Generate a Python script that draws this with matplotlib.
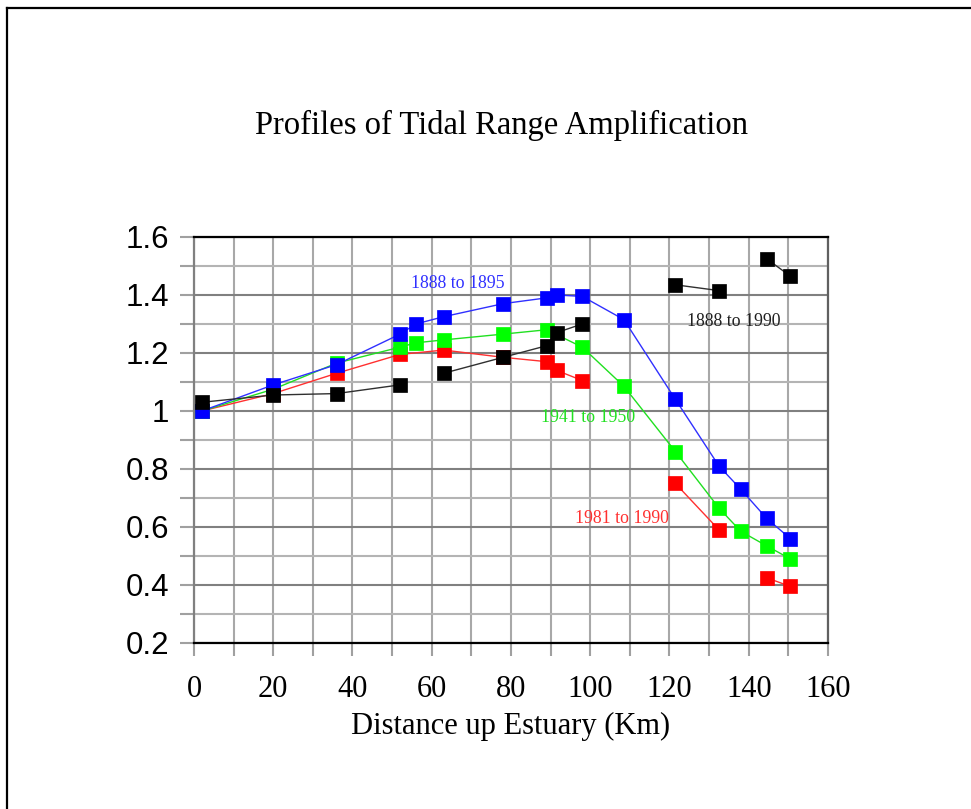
import numpy as np
import matplotlib
matplotlib.use('Agg')
import matplotlib.pyplot as plt
from matplotlib.lines import Line2D
from matplotlib.ticker import MultipleLocator

# distance up estuary (km) and amplification for each survey period
nan = np.nan

x_1888_1895 = [2, 20, 36, 52, 56, 63, 78, 89, 91.5, 98, 108.5, 121.5, 132.5, 138, 144.5, 150.5]
y_1888_1895 = [1.00, 1.09, 1.16, 1.265, 1.30, 1.325, 1.37, 1.39, 1.40, 1.395, 1.315, 1.04, 0.81, 0.73, 0.63, 0.56]

x_1941_1950 = [2, 20, 36, 52, 56, 63, 78, 89, 98, 108.5, 121.5, 132.5, 138, 144.5, 150.5]
y_1941_1950 = [1.00, 1.075, 1.165, 1.22, 1.235, 1.245, 1.265, 1.28, 1.22, 1.085, 0.86, 0.665, 0.585, 0.535, 0.49]

# gaps (nan) where the original line is broken
x_1981_1990 = [2, 20, 36, 52, 63, 78, 89, 91.5, 98, nan, 121.5, 132.5, nan, 144.5, 150.5]
y_1981_1990 = [1.00, 1.06, 1.13, 1.195, 1.21, 1.185, 1.17, 1.14, 1.105, nan, 0.75, 0.59, nan, 0.425, 0.395]

x_1888_1990 = [2, 20, 36, 52, nan, 63, 78, 89, 91.5, 98, nan, 121.5, 132.5, nan, 144.5, 150.5]
y_1888_1990 = [1.03, 1.055, 1.06, 1.09, nan, 1.13, 1.185, 1.225, 1.27, 1.30, nan, 1.435, 1.415, nan, 1.525, 1.465]

series_labels = ['1981 to 1990', '1941 to 1950', '1888 to 1895', '1888 to 1990']
label_pos = [(108.0, 0.628), (99.4, 0.979), (66.6, 1.441), (136.3, 1.307)]

SERIF = 'Liberation Serif'
SANS = 'Liberation Sans'


def plot_profiles():
    fig = plt.figure(figsize=(9.71, 8.09), dpi=100)
    ax = fig.add_axes([0.1998, 0.2052, 0.6529, 0.5019])

    # page frame (left and top edges only)
    fig.add_artist(Line2D([0.0077, 0.0077], [0, 0.990], transform=fig.transFigure, color='black', lw=1.6))
    fig.add_artist(Line2D([0.0077, 1.0], [0.990, 0.990], transform=fig.transFigure, color='black', lw=1.6))

    # series: marker colour, line colour
    styles = [('#ff0000', '#ff3030'), ('#00ff00', '#20e020'), ('#0000ff', '#3030ff'), ('#000000', '#303030')]
    data = [(x_1981_1990, y_1981_1990), (x_1941_1950, y_1941_1950),
            (x_1888_1895, y_1888_1895), (x_1888_1990, y_1888_1990)]

    for i, ((xs, ys), (mc, lc)) in enumerate(zip(data, styles)):
        ax.plot(xs, ys, color=lc, lw=1.0, zorder=3 + i)
        ax.plot(xs, ys, ls='none', marker='s', ms=9.5, mfc=mc, mec=mc, mew=0.5, zorder=3 + i)

    # inline labels
    text_colors = ['#ff3030', '#20e020', '#3030ff', '#202020']
    for lab, (tx, ty), c in zip(series_labels, label_pos, text_colors):
        ax.text(tx, ty, lab, color=c, fontsize=12.8, family=SERIF, ha='center', va='center', zorder=10)

    ax.set_xlim(0, 160)
    ax.set_ylim(0.2, 1.6)
    ax.xaxis.set_major_locator(MultipleLocator(20))
    ax.xaxis.set_minor_locator(MultipleLocator(10))
    ax.yaxis.set_major_locator(MultipleLocator(0.2))
    ax.yaxis.set_minor_locator(MultipleLocator(0.1))
    ax.set_yticks([0.2, 0.4, 0.6, 0.8, 1.0, 1.2, 1.4, 1.6], ['0.2', '0.4', '0.6', '0.8', '1', '1.2', '1.4', '1.6'])

    ax.set_axisbelow(True)
    ax.grid(True, which='both', axis='x', color='#a8a8a8', lw=1.5)
    ax.grid(True, which='major', axis='y', color='#808080', lw=1.5)
    ax.grid(True, which='minor', axis='y', color='#b4b4b4', lw=1.5)

    ax.tick_params(axis='both', which='both', color='#a0a0a0', width=1.5)
    ax.tick_params(axis='x', which='both', length=9, pad=14)
    ax.tick_params(axis='y', which='both', length=10, pad=8)

    for lab in ax.get_xticklabels():
        lab.set_family(SERIF)
        lab.set_fontsize(22)
    for lab in ax.get_yticklabels():
        lab.set_family(SANS)
        lab.set_fontsize(22.5)

    ax.spines['top'].set_color('black')
    ax.spines['top'].set_linewidth(1.6)
    ax.spines['bottom'].set_color('black')
    ax.spines['bottom'].set_linewidth(1.6)
    ax.spines['left'].set_color('#808080')
    ax.spines['left'].set_linewidth(1.6)
    ax.spines['right'].set_color('#606060')
    ax.spines['right'].set_linewidth(1.6)

    ax.set_xlabel('Distance up Estuary (Km)', family=SERIF, fontsize=22, labelpad=6)
    fig.text(0.516, 0.845, 'Profiles of Tidal Range Amplification', family=SERIF, fontsize=23.5,
             ha='center', va='center')

    fig.savefig('out.png', dpi=100, facecolor='white')


if __name__ == '__main__':
    plot_profiles()
